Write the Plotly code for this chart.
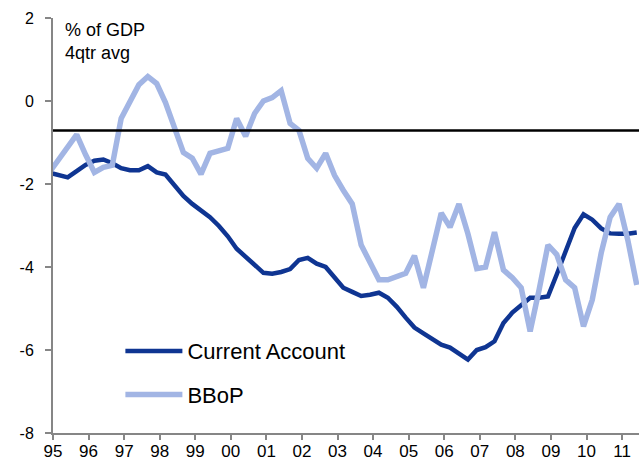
import pandas as pd
import plotly.graph_objects as go

# Quarterly observations, 1994Q4 .. 2011Q2 (% of GDP, 4-quarter average)
quarters = pd.period_range("1994Q4", "2011Q2", freq="Q")
current_account = [
    -1.73, -1.78, -1.84, -1.69, -1.54, -1.44, -1.41, -1.50, -1.62, -1.67,
    -1.67, -1.57, -1.72, -1.77, -2.04, -2.29, -2.48, -2.65, -2.80, -3.01,
    -3.26, -3.56, -3.75, -3.95, -4.14, -4.16, -4.12, -4.05, -3.83, -3.78,
    -3.92, -4.00, -4.25, -4.50, -4.60, -4.70, -4.67, -4.62, -4.74, -4.96,
    -5.22, -5.46, -5.60, -5.74, -5.87, -5.94, -6.08, -6.23, -6.00, -5.93,
    -5.79, -5.35, -5.10, -4.91, -4.74, -4.74, -4.71, -4.18, -3.58, -3.06,
    -2.73, -2.86, -3.07, -3.19, -3.20, -3.20, -3.17,
]
bbop = [
    -1.70, -1.41, -1.11, -0.81, -1.29, -1.72, -1.60, -1.55, -0.42, -0.04,
    0.39, 0.59, 0.42, -0.04, -0.64, -1.24, -1.38, -1.76, -1.26, -1.20,
    -1.14, -0.42, -0.85, -0.30, 0.00, 0.08, 0.25, -0.54, -0.71, -1.38,
    -1.62, -1.26, -1.79, -2.15, -2.48, -3.47, -3.90, -4.31, -4.31, -4.23,
    -4.15, -3.73, -4.50, -3.60, -2.70, -3.04, -2.48, -3.20, -4.04, -4.00,
    -3.16, -4.07, -4.26, -4.50, -5.55, -4.55, -3.47, -3.70, -4.31, -4.50,
    -5.43, -4.79, -3.66, -2.80, -2.48, -3.35, -4.43,
]
reference_level = -0.71

years = list(range(1995, 2012))
year_labels = [f"{y % 100:02d}" for y in years]
y_ticks = [2, 0, -2, -4, -6, -8]
y_tick_labels = ["2", "0", "-2", "-4", "-6", "-8"]

# observations plotted at the final month of each quarter
dates = [(q.end_time - pd.offsets.MonthBegin(1)).normalize() for q in quarters]

DARK = "#0f3592"
LIGHT = "#a2b5e4"
AXIS = "#868686"
FONT = "Liberation Sans, Arial, sans-serif"

fig = go.Figure()
fig.add_trace(go.Scatter(x=dates, y=current_account, mode="lines",
                         name="Current Account", legendgroup="a",
                         line=dict(color=DARK, width=4.5)))
fig.add_trace(go.Scatter(x=dates, y=bbop, mode="lines",
                         name="BBoP", legendgroup="b",
                         line=dict(color=LIGHT, width=5.5)))

fig.add_shape(type="line", xref="paper", x0=0, x1=1,
              yref="y", y0=reference_level, y1=reference_level,
              line=dict(color="black", width=2.5), layer="above")

fig.add_annotation(text="% of GDP<br>4qtr avg", xref="paper", yref="paper",
                   x=0.017, y=1.0, xanchor="left", yanchor="top",
                   showarrow=False, align="left",
                   font=dict(family=FONT, size=18, color="black"))

fig.update_layout(
    width=639, height=461,
    margin=dict(l=53, r=0, t=18, b=28, autoexpand=False),
    paper_bgcolor="white", plot_bgcolor="white",
    font=dict(family=FONT, color="black"),
    showlegend=True,
    legend=dict(x=0.115, y=0.248, xanchor="left", yanchor="top",
                font=dict(family=FONT, size=22, color="black"),
                bgcolor="rgba(0,0,0,0)", itemwidth=57,
                tracegroupgap=12, traceorder="grouped"),
    xaxis=dict(type="date", automargin=False,
               range=["1995-01-01", "2011-06-24"],
               tickvals=[f"{y}-01-01" for y in years], ticktext=year_labels,
               showgrid=False, zeroline=False,
               showline=True, linecolor=AXIS, linewidth=2,
               ticks="outside", ticklen=5, tickwidth=2, tickcolor=AXIS,
               ticklabelstandoff=-3,
               tickfont=dict(family=FONT, size=17, color="black")),
    yaxis=dict(range=[-8, 2], tickvals=y_ticks, ticktext=y_tick_labels,
               automargin=False,
               showgrid=False, zeroline=False,
               showline=True, linecolor=AXIS, linewidth=2,
               ticks="outside", ticklen=6, tickwidth=2, tickcolor=AXIS,
               ticklabelstandoff=8,
               tickfont=dict(family=FONT, size=16, color="black")),
)

fig.write_html(
    "out.html",
    config={"displayModeBar": False},
    post_script="document.body.style.margin='0';"
                "document.body.style.overflow='hidden';",
)
